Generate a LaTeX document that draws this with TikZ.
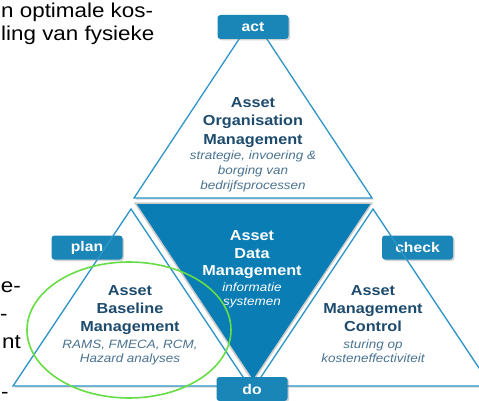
\documentclass[tikz,border=0pt]{standalone}
\usepackage{fontspec}
\setmainfont{Liberation Sans}[FakeStretch=1.12]
\usetikzlibrary{shadows}
\definecolor{triline}{HTML}{2E96C8}
\definecolor{midblue}{HTML}{0A7DB4}
\definecolor{tabblue}{HTML}{1A86B8}
\definecolor{titleblue}{HTML}{1D4B6E}
\definecolor{subblue}{HTML}{4A7391}
\definecolor{ringgreen}{HTML}{66DD44}
\tikzset{
  tri/.style={draw=triline, line width=1.3pt, line join=miter},
  trifill/.style={fill=white, drop shadow={opacity=0.3, shadow xshift=1.5pt, shadow yshift=-1.5pt}},
  tab/.style={fill=tabblue, rounded corners=3pt, minimum width=71pt, minimum height=24pt, inner sep=0pt,
    text=white, font=\fontsize{14}{14}\selectfont\bfseries,
    drop shadow={opacity=0.35, shadow xshift=1.5pt, shadow yshift=-1.5pt}},
  ttl/.style={anchor=base, inner sep=0pt, text=titleblue, font=\fontsize{14.5}{15}\selectfont\bfseries},
  sub/.style={anchor=base, inner sep=0pt, text=subblue, font=\fontsize{12}{12}\selectfont\itshape},
  wttl/.style={ttl, text=white},
  wsub/.style={sub, text=white},
  body/.style={inner sep=0pt, text=black, font=\fontsize{20}{20}\selectfont},
}
\begin{document}
\begin{tikzpicture}[x=1pt, y=-1pt]
\useasboundingbox (0,0) rectangle (479,401);
\clip (0,0) rectangle (479,401);
\fill[white] (0,0) rectangle (479,401);

% coordinates
\coordinate (tA) at (253,18);  \coordinate (tB) at (134,198); \coordinate (tC) at (372,198);
\coordinate (lA) at (131,209); \coordinate (lB) at (13,386);  \coordinate (lC) at (249,386);
\coordinate (rA) at (373,209); \coordinate (rB) at (255,386); \coordinate (rC) at (491,386);
\coordinate (mA) at (135,203); \coordinate (mB) at (372,203); \coordinate (mC) at (253,381);

% background text fragments
\node[body, anchor=base west] (p1) at (1,18) {n optimale kos-};
\node[body, anchor=base west] (p2) at (1,41) {ling van fysieke};
\node[body, anchor=base east] (p3) at (21,292) {e-};
\node[body, anchor=base west] (p4) at (0,320) {-};
\node[body, anchor=base east] (p5) at (21,348) {nt};
\node[body, anchor=base west] (p6) at (1,398) {-};

% triangle bodies with shadow
\path[trifill] (tA) -- (tB) -- (tC) -- cycle;
\path[trifill] (lA) -- (lB) -- (lC) -- cycle;
\path[trifill] (rA) -- (rB) -- (rC) -- cycle;

% tabs under the outlines
\node[tab] (plan) at (87,247.5) {plan};
\node[tab] (check) at (417.5,247.5) {check};

% outlines
\draw[tri] (tA) -- (tB) -- (tC) -- cycle;
\draw[tri] (lA) -- (lB) -- (lC) -- cycle;
\draw[tri] (rA) -- (rB) -- (rC) -- cycle;

% middle triangle
\draw[draw=gray!40, line width=1.5pt, line join=miter, fill=midblue] (mA) -- (mB) -- (mC) -- cycle;

% tabs on top
\node[tab] (act) at (253,27) {act};
\node[tab] (do) at (252,389) {do};

% top triangle text
\node[ttl] (t1) at (253,108) {Asset};
\node[ttl] (t2) at (253,126) {Organisation};
\node[ttl] (t3) at (253,144) {Management};
\node[sub] (t4) at (253,160) {strategie, invoering \&};
\node[sub] (t5) at (253,174.5) {borging van};
\node[sub] (t6) at (253,189) {bedrijfsprocessen};

% left triangle text
\node[ttl] (l1) at (130,295) {Asset};
\node[ttl] (l2) at (130,313) {Baseline};
\node[ttl] (l3) at (130,331) {Management};
\node[sub] (l4) at (130,348) {RAMS, FMECA, RCM,};
\node[sub] (l5) at (130,362) {Hazard analyses};

% right triangle text
\node[ttl] (r1) at (373,295) {Asset};
\node[ttl] (r2) at (373,313) {Management};
\node[ttl] (r3) at (373,331) {Control};
\node[sub] (r4) at (373,348) {sturing op};
\node[sub] (r5) at (373,362) {kosteneffectiviteit};

% middle text
\node[wttl] (m1) at (252,240) {Asset};
\node[wttl] (m2) at (252,258) {Data};
\node[wttl] (m3) at (252,275) {Management};
\node[wsub] (m4) at (252,291) {informatie};
\node[wsub] (m5) at (252,305) {systemen};

% green ring
\draw[ringgreen, line width=1.6pt] (129,330) ellipse [x radius=102pt, y radius=68pt];
\end{tikzpicture}
\end{document}
